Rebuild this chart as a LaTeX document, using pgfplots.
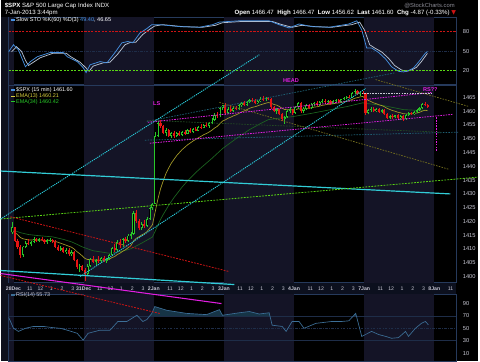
\documentclass[border=0pt]{standalone}
\usepackage{fontspec}
\setmainfont{Liberation Sans}
\newfontfamily\symfont{DejaVu Sans}
\usepackage{pgfplots}
\usepackage{pgfplotstable}
\pgfplotsset{compat=1.18}

\definecolor{dayshade}{RGB}{20,20,38}
\definecolor{leftstrip}{RGB}{14,16,28}
\definecolor{border}{RGB}{38,58,92}
\definecolor{ticktext}{RGB}{200,200,212}
\definecolor{upc}{RGB}{40,200,40}
\definecolor{dnc}{RGB}{230,20,20}
\definecolor{emaA}{RGB}{165,155,40}
\definecolor{emaAleg}{RGB}{215,205,60}
\definecolor{emaB}{RGB}{28,100,32}
\definecolor{cyd}{RGB}{40,200,215}
\definecolor{cys}{RGB}{50,205,215}
\definecolor{cLime}{RGB}{90,215,20}
\definecolor{cRed}{RGB}{205,20,20}
\definecolor{cMag}{RGB}{225,30,225}
\definecolor{cTeal}{RGB}{30,95,115}
\definecolor{cOlive}{RGB}{115,110,30}
\definecolor{cDkGreen}{RGB}{35,75,35}
\definecolor{gridc}{RGB}{30,45,72}
\definecolor{rsic}{RGB}{60,110,150}
\definecolor{rsifill}{RGB}{22,52,70}
\definecolor{stoK}{RGB}{70,145,225}
\definecolor{stoD}{RGB}{185,195,210}
\definecolor{dateband}{RGB}{12,16,30}
\definecolor{wmark}{RGB}{140,140,150}

\pgfplotstableread{
d k o h l c
-1 25 1416.0 1419.8 1415.4 1418.1
0 3 1407.8 1411.2 1407.2 1410.9
0 4 1410.9 1412.8 1410.2 1412.3
0 6 1412.0 1413.0 1411.0 1412.6
0 7 1412.6 1414.2 1412.1 1413.8
0 9 1412.9 1413.9 1412.4 1413.5
0 12 1412.4 1413.5 1411.8 1413.1
0 13 1413.1 1413.9 1412.6 1413.4
0 17 1409.8 1411.0 1409.3 1410.5
0 19 1409.0 1410.2 1408.2 1409.8
0 21 1408.1 1409.5 1407.6 1409.0
0 24 1403.4 1404.6 1401.6 1404.0
1 1 1401.0 1404.5 1400.5 1404.0
1 2 1404.0 1406.8 1403.5 1406.2
1 4 1405.3 1406.5 1404.2 1406.0
1 6 1405.5 1407.0 1405.0 1406.6
1 8 1405.8 1406.9 1405.0 1406.4
1 9 1406.4 1408.2 1406.0 1407.8
1 10 1407.8 1410.8 1407.5 1410.3
1 12 1409.5 1413.2 1409.1 1412.6
1 14 1411.4 1414.0 1410.9 1413.5
1 16 1412.8 1415.4 1412.4 1414.9
1 17 1414.9 1416.2 1413.7 1415.6
1 18 1415.6 1423.8 1415.2 1422.9
1 21 1417.5 1419.8 1417.0 1419.2
1 23 1418.4 1421.5 1418.0 1421.0
1 24 1421.0 1425.2 1420.6 1424.8
1 25 1424.8 1426.74 1424.3 1426.19
2 0 1426.19 1452.5 1426.19 1451.0
2 1 1451.0 1456.5 1450.5 1455.8
2 4 1452.2 1453.8 1451.0 1453.2
2 6 1451.2 1452.5 1450.2 1452.0
2 8 1450.9 1452.4 1450.5 1452.1
2 10 1451.5 1453.0 1451.2 1452.6
2 12 1451.9 1453.6 1451.6 1453.1
2 14 1452.4 1453.9 1452.1 1453.5
2 16 1453.0 1454.6 1452.7 1454.2
2 18 1454.0 1455.4 1453.8 1455.0
2 20 1454.6 1456.0 1454.0 1455.6
2 21 1455.6 1457.5 1455.2 1457.0
2 22 1457.0 1459.2 1456.6 1458.6
2 24 1458.1 1461.6 1457.9 1461.2
2 25 1461.2 1462.43 1460.5 1462.42
3 1 1459.4 1461.4 1459.0 1460.9
3 3 1460.2 1461.7 1459.8 1461.3
3 5 1460.8 1462.6 1460.5 1462.2
3 6 1462.2 1463.5 1461.6 1463.0
3 8 1462.3 1463.6 1462.0 1463.4
3 9 1463.4 1464.5 1463.0 1464.1
3 12 1462.9 1464.2 1462.6 1463.8
3 13 1463.8 1465.0 1463.4 1464.6
3 15 1464.3 1465.2 1463.7 1464.9
3 19 1460.0 1461.2 1459.1 1460.7
3 22 1457.2 1458.3 1455.53 1457.9
3 23 1457.9 1460.6 1457.5 1460.2
3 24 1460.2 1461.4 1459.5 1460.8
4 0 1459.37 1461.8 1458.99 1461.4
4 1 1461.4 1463.4 1461.0 1462.9
4 3 1460.0 1461.5 1459.3 1461.0
4 4 1461.0 1462.6 1460.6 1462.2
4 6 1461.3 1463.0 1461.0 1462.6
4 7 1462.6 1463.5 1462.0 1463.1
4 9 1462.2 1463.7 1462.0 1463.4
4 10 1463.4 1464.3 1462.9 1463.9
4 12 1463.2 1464.1 1462.9 1463.8
4 14 1462.8 1464.0 1462.5 1463.7
4 15 1463.7 1464.6 1463.4 1464.2
4 17 1463.3 1464.6 1463.1 1464.4
4 18 1464.4 1465.2 1464.0 1464.8
4 19 1464.8 1465.6 1464.3 1465.3
4 21 1465.0 1466.9 1464.8 1466.6
4 22 1466.6 1467.94 1466.2 1467.5
4 24 1466.3 1467.0 1465.6 1466.8
5 1 1459.4 1461.0 1458.9 1460.6
5 2 1460.6 1461.4 1459.8 1461.0
5 4 1460.1 1461.2 1459.7 1460.9
5 6 1459.8 1460.9 1459.3 1460.5
5 9 1457.6 1458.6 1457.2 1458.3
5 11 1457.8 1458.8 1457.4 1458.5
5 13 1457.4 1458.6 1456.8 1458.2
5 15 1457.1 1458.9 1456.9 1458.7
5 16 1458.7 1459.6 1458.3 1459.3
5 18 1459.0 1460.0 1458.8 1459.8
5 19 1459.8 1460.9 1459.4 1460.5
5 20 1460.5 1461.6 1460.1 1461.2
5 21 1461.2 1463.0 1460.9 1462.6
}\upbars

\pgfplotstableread{
d k o h l c
0 0 1418.1 1418.1 1412.5 1413.0
0 1 1413.0 1413.5 1410.0 1410.8
0 2 1410.8 1411.5 1406.8 1407.8
0 5 1412.3 1413.6 1411.5 1412.0
0 8 1413.8 1414.0 1412.5 1412.9
0 10 1413.5 1414.3 1412.9 1413.2
0 11 1413.2 1413.8 1412.0 1412.4
0 14 1413.4 1413.8 1412.2 1412.6
0 15 1412.6 1413.2 1410.5 1410.9
0 16 1410.9 1411.4 1409.2 1409.8
0 18 1410.5 1410.9 1408.6 1409.0
0 20 1409.8 1410.4 1407.5 1408.1
0 22 1409.0 1409.3 1405.5 1406.0
0 23 1406.0 1406.4 1402.8 1403.4
0 25 1404.0 1404.3 1402.0 1402.43
1 0 1402.43 1403.2 1398.5 1401.0
1 3 1406.2 1407.4 1404.8 1405.3
1 5 1406.0 1407.3 1405.1 1405.5
1 7 1406.6 1407.5 1405.2 1405.8
1 11 1410.3 1412.0 1408.8 1409.5
1 13 1412.6 1413.6 1410.5 1411.4
1 15 1413.5 1414.5 1412.2 1412.8
1 19 1422.9 1424.2 1419.5 1420.1
1 20 1420.1 1421.0 1416.8 1417.5
1 22 1419.2 1420.6 1417.8 1418.4
2 2 1455.8 1457.0 1453.9 1454.5
2 3 1454.5 1455.0 1451.6 1452.2
2 5 1453.2 1453.6 1450.6 1451.2
2 7 1452.0 1452.9 1450.4 1450.9
2 9 1452.1 1452.8 1451.0 1451.5
2 11 1452.6 1453.2 1451.4 1451.9
2 13 1453.1 1453.9 1452.0 1452.4
2 15 1453.5 1454.3 1452.8 1453.0
2 17 1454.2 1455.2 1453.5 1454.0
2 19 1455.0 1456.2 1454.2 1454.6
2 23 1458.6 1459.8 1457.5 1458.1
3 0 1462.42 1463.0 1458.6 1459.4
3 2 1460.9 1461.8 1459.6 1460.2
3 4 1461.3 1462.0 1460.3 1460.8
3 7 1463.0 1463.6 1461.8 1462.3
3 10 1464.1 1464.8 1463.2 1463.6
3 11 1463.6 1464.4 1462.5 1462.9
3 14 1464.6 1465.47 1463.9 1464.3
3 16 1464.9 1465.3 1464.0 1464.5
3 17 1464.5 1464.8 1460.9 1461.4
3 18 1461.4 1462.0 1459.6 1460.0
3 20 1460.7 1461.0 1458.5 1458.9
3 21 1458.9 1459.4 1456.6 1457.2
3 25 1460.8 1461.0 1458.8 1459.37
4 2 1462.9 1463.2 1459.4 1460.0
4 5 1462.2 1462.8 1460.8 1461.3
4 8 1463.1 1463.6 1461.8 1462.2
4 11 1463.9 1464.4 1462.8 1463.2
4 13 1463.8 1464.2 1462.4 1462.8
4 16 1464.2 1464.5 1462.9 1463.3
4 20 1465.3 1466.0 1464.7 1465.0
4 23 1467.5 1467.8 1466.0 1466.3
4 25 1466.8 1467.2 1466.1 1466.47
5 0 1466.47 1466.47 1458.6 1459.4
5 3 1461.0 1461.6 1459.6 1460.1
5 5 1460.9 1461.3 1459.5 1459.8
5 7 1460.5 1460.8 1458.6 1459.0
5 8 1459.0 1459.5 1457.2 1457.6
5 10 1458.3 1458.9 1457.3 1457.8
5 12 1458.5 1458.9 1457.0 1457.4
5 14 1458.2 1458.5 1456.62 1457.1
5 17 1459.3 1459.9 1458.6 1459.0
5 22 1462.6 1463.3 1461.8 1462.3
5 23 1462.3 1462.5 1461.3 1461.6
}\dnbars

\pgfplotstableread{
d k v
-1 25 1416.5
0 0 1416.0
0 1 1415.26
0 2 1414.19
0 3 1413.72
0 5 1413.30
0 7 1413.29
0 9 1413.27
0 11 1413.14
0 13 1413.17
0 15 1412.78
0 17 1412.09
0 19 1411.39
0 21 1410.65
0 22 1409.99
0 23 1409.05
0 24 1408.33
0 25 1407.49
1 0 1406.56
1 1 1406.19
1 3 1406.06
1 5 1405.97
1 7 1406.02
1 9 1406.32
1 10 1406.89
1 11 1407.26
1 12 1408.02
1 13 1408.50
1 14 1409.22
1 15 1409.73
1 16 1410.47
1 17 1411.20
1 18 1412.87
1 19 1413.90
1 20 1414.41
1 21 1415.09
1 22 1415.56
1 23 1416.34
1 24 1417.55
1 25 1418.79
2 0 1423.40
2 1 1428.03
2 2 1431.82
2 3 1434.73
2 4 1437.37
2 5 1439.35
2 6 1441.16
2 7 1442.55
2 8 1443.92
2 9 1445.00
2 10 1446.09
2 11 1446.92
2 12 1447.80
2 13 1448.46
2 14 1449.18
2 15 1449.73
2 16 1450.37
2 17 1450.89
2 18 1451.48
2 19 1451.93
2 20 1452.45
2 21 1453.10
2 22 1453.89
2 23 1454.49
2 24 1455.45
2 25 1456.45
3 0 1456.87
3 1 1457.45
3 2 1457.84
3 3 1458.33
3 4 1458.68
3 5 1459.18
3 6 1459.73
3 7 1460.10
3 8 1460.57
3 9 1461.07
3 10 1461.43
3 11 1461.64
3 12 1461.95
3 13 1462.33
3 14 1462.61
3 15 1462.94
3 16 1463.16
3 17 1462.91
3 18 1462.49
3 19 1462.23
3 20 1461.75
3 21 1461.10
3 22 1460.64
3 23 1460.58
3 24 1460.61
3 25 1460.43
4 0 1460.57
4 1 1460.90
4 2 1460.77
4 3 1460.80
4 4 1461.00
4 6 1461.26
4 7 1461.52
4 8 1461.62
4 9 1461.87
4 10 1462.16
4 11 1462.31
4 12 1462.52
4 13 1462.56
4 14 1462.72
4 15 1462.93
4 16 1462.98
4 17 1463.18
4 18 1463.41
4 19 1463.68
4 20 1463.87
4 21 1464.26
4 22 1464.72
4 23 1464.95
4 24 1465.21
4 25 1465.39
5 0 1464.53
5 1 1463.97
5 2 1463.55
5 3 1463.06
5 4 1462.75
5 5 1462.33
5 6 1462.07
5 7 1461.63
5 8 1461.05
5 9 1460.66
5 10 1460.25
5 11 1460.00
5 12 1459.63
5 13 1459.43
5 14 1459.10
5 15 1459.04
5 17 1459.07
5 18 1459.17
5 19 1459.36
5 20 1459.62
5 21 1460.05
5 22 1460.37
5 23 1460.21
}\emaA

\pgfplotstableread{
d k v
-1 25 1417.0
0 2 1415.95
0 5 1415.26
0 9 1414.83
0 14 1414.41
0 18 1413.5
0 21 1412.6
0 23 1411.72
0 25 1410.77
1 3 1409.37
1 9 1408.47
1 14 1409.24
1 17 1410.08
1 21 1412.14
1 25 1414.34
2 0 1416.43
2 1 1418.68
2 2 1420.73
2 3 1422.53
2 5 1425.8
2 7 1428.68
2 10 1432.5
2 12 1434.70
2 15 1437.7
2 17 1439.48
2 21 1442.85
2 25 1446.47
3 4 1450.05
3 9 1453.35
3 13 1455.5
3 16 1456.97
3 21 1457.64
3 25 1458.05
4 6 1459.25
4 13 1460.58
4 19 1461.68
4 25 1463.08
5 0 1462.87
5 6 1462.17
5 14 1460.61
5 19 1460.33
5 23 1460.42
}\emaB

\newcommand{\daybands}[2]{%
  \fill[dayshade] (-0.071,#1) rectangle (0,#2);
  \fill[dayshade] (1,#1) rectangle (2,#2);
  \fill[dayshade] (3,#1) rectangle (4,#2);
  \fill[dayshade] (5,#1) rectangle (6,#2);
}
\newcommand{\sz}{\fontsize{4.3}{5}\selectfont}

\pgfplotsset{
  panel/.style={scale only axis, anchor=south west, width=337.5pt,
    xmin=-0.071, xmax=6.312,
    axis background/.style={fill=black},
    axis line style={draw=border, line width=0.5pt},
    tick style={draw=none}, major tick length=0pt,
    yticklabel pos=right,
    yticklabel style={font=\sz, text=ticktext, xshift=1.5pt},
    xtick=\empty},
  candle/.style={forget plot, mark=none, line cap=butt},
}

\begin{document}
\begin{tikzpicture}[x=1pt,y=1pt]
\fill[black] (0,0) rectangle (360,272.25);
\fill[leftstrip] (0,0) rectangle (6,259.5);

% ---------------- RSI panel ----------------
\begin{axis}[panel, at={(6pt,0pt)}, height=50.25pt, ymin=-2.8, ymax=104.4,
  ytick={10,30,50,70,90}, yticklabels={10,30,50,70,90}]
\daybands{-2.8}{104.4}
\addplot[gridc, line width=0.45pt, forget plot] coordinates {(-0.071,70) (6.312,70)};
\addplot[gridc, line width=0.45pt, forget plot] coordinates {(-0.071,30) (6.312,30)};
\addplot[gridc, line width=0.45pt, dash pattern=on 2pt off 1pt on 0.5pt off 1pt, forget plot] coordinates {(-0.071,50) (6.312,50)};
\addplot[fill=rsifill, draw=none, forget plot] coordinates {(1.944,70) (1.972,74) (2.014,85) (2.184,79) (2.468,74) (2.752,72) (2.936,80) (2.979,71) (3.220,75) (3.362,77) (3.504,73) (3.645,75) (3.656,70)};
\addplot[fill=rsifill, draw=none, forget plot] coordinates {(4.846,70) (4.879,74) (4.888,70)};
\addplot[rsic, line width=0.5pt, forget plot] table {
x v
-0.071 68
0.000 50
0.071 45
0.170 50
0.284 53
0.426 53
0.567 51
0.667 50
0.766 47
0.908 42
0.993 31
1.064 42
1.234 47
1.376 47
1.489 61
1.617 61
1.759 71
1.844 61
1.901 64
1.972 74
2.014 85
2.184 79
2.468 74
2.752 72
2.936 80
2.979 71
3.220 75
3.362 77
3.504 73
3.645 75
3.688 55
3.830 53
3.887 45
3.972 61
4.071 61
4.142 50
4.312 58
4.539 61
4.681 61
4.780 62
4.879 74
4.965 37
5.106 45
5.206 40
5.305 37
5.390 34
5.489 35
5.589 45
5.631 37
5.730 50
5.816 58
5.872 61
5.915 55.73
};
\end{axis}

% ---------------- Stochastic panel ----------------
\begin{axis}[panel, at={(6pt,208.5pt)}, height=51pt, ymin=-1.5, ymax=103,
  ytick={20,50,80}, yticklabels={20,50,80}]
\daybands{-1.5}{103}
\addplot[gridc, line width=0.45pt, dash pattern=on 2pt off 1pt on 0.5pt off 1pt, forget plot] coordinates {(-0.071,50) (6.312,50)};
\addplot[stoD, line width=0.55pt, forget plot] table {
x v
-0.028 49
0.043 57
0.113 50
0.170 36
0.213 28
0.284 33
0.383 40
0.567 47
0.752 47
0.809 42
0.950 33
1.035 24
1.078 19
1.135 27
1.277 32
1.376 33
1.489 46
1.589 60
1.674 64
1.745 64
1.844 76
1.943 84
2.014 89
2.128 91
2.411 88
2.695 87
2.879 90
2.979 94
3.262 96
3.688 96
3.830 91
3.972 87
4.113 90
4.298 88
4.539 87
4.823 91
4.936 95
5.007 82
5.078 60
5.149 55
5.248 49
5.348 39
5.433 28
5.532 21
5.603 19
5.674 21
5.745 25
5.816 34
5.901 46.65
};
\addplot[stoK, line width=0.55pt, forget plot] table {
x v
-0.071 49
0.000 60
0.071 52
0.128 37
0.170 26
0.241 34
0.340 41.5
0.525 48
0.709 48
0.766 41.5
0.908 34
0.993 24.6
1.035 17
1.092 29
1.234 34
1.333 32
1.447 48
1.546 63
1.631 65
1.702 63
1.801 78
1.901 85
1.972 91
2.085 91
2.369 88
2.652 87
2.837 91
2.936 95
3.220 97
3.645 97
3.787 91
3.929 86
4.071 92
4.255 88
4.496 87
4.780 92
4.894 97
4.965 83
5.035 55
5.106 55
5.206 48
5.305 38
5.390 26
5.489 19
5.560 18
5.631 20
5.702 24
5.773 33
5.872 47
5.901 49.4
};
\addplot[cRed, line width=0.6pt, dash pattern=on 1.6pt off 1pt, forget plot] coordinates {(-0.071,80) (6.312,80)};
\addplot[cLime, line width=0.6pt, dash pattern=on 1.6pt off 1pt, forget plot] coordinates {(-0.071,20) (6.312,20)};
\end{axis}

% date band
\fill[dateband] (6,50.25) rectangle (343.5,59.25);

% ---------------- Price panel ----------------
\begin{axis}[panel, at={(6pt,59.25pt)}, height=148.5pt, ymin=1397.83, ymax=1469.33, clip=false,
  ytick={1400,1405,1410,1415,1420,1425,1430,1435,1440,1445,1450,1455,1460,1465},
  yticklabels={1400,1405,1410,1415,1420,1425,1430,1435,1440,1445,1450,1455,1460,1465},
  xtick={0,0.2308,0.3846,0.5385,0.6923,0.8462,1,1.2308,1.3846,1.5385,1.6923,1.8462,2,2.2308,2.3846,2.5385,2.6923,2.8462,3,3.2308,3.3846,3.5385,3.6923,3.8462,4,4.2308,4.3846,4.5385,4.6923,4.8462,5,5.2308,5.3846,5.5385,5.6923,5.8462,6,6.2308},
  xticklabels={\textbf{28Dec},11,12,1,2,3,\textbf{31Dec},11,12,1,2,3,\textbf{2Jan},11,12,1,2,3,\textbf{3Jan},11,12,1,2,3,\textbf{4Jan},11,12,1,2,3,\textbf{7Jan},11,12,1,2,3,\textbf{8Jan},11},
  xticklabel style={font=\fontsize{3.9}{4.5}\selectfont, text=ticktext, anchor=center, yshift=-4.6pt}]
\daybands{1397.83}{1469.33}
% EMAs
\addplot[emaB, line width=0.5pt, forget plot] table[x expr={\thisrow{d}+(\thisrow{k}+0.5)/26}, y=v] {\emaB};
\addplot[emaA, line width=0.5pt, forget plot] table[x expr={\thisrow{d}+(\thisrow{k}+0.5)/26}, y=v] {\emaA};
% candles: wicks (quiver segments from low to high)
\addplot[candle, upc, line width=0.35pt, quiver={u=0, v={\thisrow{h}-\thisrow{l}}}]
  table[x expr={\thisrow{d}+(\thisrow{k}+0.5)/26}, y=l] {\upbars};
\addplot[candle, dnc, line width=0.35pt, quiver={u=0, v={\thisrow{h}-\thisrow{l}}}]
  table[x expr={\thisrow{d}+(\thisrow{k}+0.5)/26}, y=l] {\dnbars};
% bodies (open to close)
\addplot[candle, upc, line width=1.6pt, quiver={u=0, v={max(\thisrow{c}-\thisrow{o},0.3)}}]
  table[x expr={\thisrow{d}+(\thisrow{k}+0.5)/26}, y=o] {\upbars};
\addplot[candle, black, line width=0.6pt, quiver={u=0, v={max(\thisrow{c}-\thisrow{o}-0.7,0.001)}}]
  table[x expr={\thisrow{d}+(\thisrow{k}+0.5)/26}, y expr={\thisrow{o}+0.35}] {\upbars};
\addplot[candle, dnc, line width=1.6pt, quiver={u=0, v={max(\thisrow{o}-\thisrow{c},0.3)}}]
  table[x expr={\thisrow{d}+(\thisrow{k}+0.5)/26}, y=c] {\dnbars};
% drawn trendlines
\addplot[cTeal, line width=0.55pt, dash pattern=on 1.2pt off 0.9pt, forget plot] coordinates {(1.872,1449.5) (6.340,1452.4)};
\addplot[cTeal, line width=0.55pt, dash pattern=on 1.2pt off 0.9pt, forget plot] coordinates {(1.901,1456.3) (5.447,1474.0)};
\addplot[cDkGreen, line width=0.55pt, dash pattern=on 1.2pt off 0.9pt, forget plot] coordinates {(1.901,1456.7) (6.099,1452.4)};
\addplot[cOlive, line width=0.55pt, dash pattern=on 1.2pt off 0.9pt, forget plot] coordinates {(2.936,1463.2) (6.199,1439.0)};
\addplot[cOlive, line width=0.55pt, dash pattern=on 1.2pt off 0.9pt, forget plot] coordinates {(5.163,1471.5) (6.482,1461.8)};
\addplot[cMag, line width=0.6pt, dash pattern=on 1.2pt off 0.8pt, forget plot] coordinates {(1.915,1456.0) (5.957,1466.8)};
\addplot[cMag, line width=0.6pt, dash pattern=on 1.2pt off 0.8pt, forget plot] coordinates {(1.943,1448.4) (6.270,1458.9)};
\addplot[cMag, line width=1pt, dash pattern=on 1.2pt off 0.8pt, forget plot] coordinates {(6.028,1457.8) (6.028,1445.5)};
\addplot[ticktext, line width=0.5pt, dash pattern=on 1.2pt off 0.8pt, forget plot] coordinates {(4.965,1466.4) (5.986,1466.4)};
\addplot[cys, line width=0.9pt, forget plot] coordinates {(-0.184,1438.3) (6.227,1430.0)};
\addplot[cys, line width=0.9pt, forget plot] coordinates {(-0.184,1402.2) (3.149,1397.1)};
\addplot[cLime, line width=0.6pt, dash pattern=on 1.4pt off 0.9pt, forget plot] coordinates {(-0.184,1420.9) (6.624,1436.1)};
\addplot[cRed, line width=0.6pt, dash pattern=on 1.4pt off 0.9pt, forget plot] coordinates {(-0.043,1421.7) (3.078,1401.8)};
\addplot[cRed, line width=0.6pt, dash pattern=on 1.4pt off 0.9pt, forget plot] coordinates {(-0.184,1400.4) (2.085,1386.6)};
\addplot[cMag, line width=0.8pt, forget plot] coordinates {(-0.184,1401.1) (2.965,1390.2)};
\addplot[cyd, line width=0.7pt, dash pattern=on 0.9pt off 0.7pt, forget plot] coordinates {(-0.184,1420.9) (3.504,1480.5)};
\addplot[cyd, line width=0.7pt, dash pattern=on 0.9pt off 0.7pt, forget plot] coordinates {(0.950,1400.0) (5.021,1468.3)};
% annotations
\node[text=cMag, font=\fontsize{4.2}{5}\selectfont\bfseries] at (2.043,1462.8) {LS};
\node[text=cMag, font=\fontsize{4.2}{5}\selectfont\bfseries] at (3.957,1471.3) {HEAD};
\node[text=cMag, font=\fontsize{4.2}{5}\selectfont\bfseries] at (5.943,1467.7) {RS??};
\end{axis}

% ---------------- header texts ----------------
\node[anchor=west, text=white, font=\fontsize{4.6}{5.5}\selectfont, inner sep=0] at (3,267.6) {\textbf{\$SPX}\ S\&P 500 Large Cap Index INDX};
\node[anchor=west, text=white, font=\fontsize{4.6}{5.5}\selectfont, inner sep=0] at (3,262.4) {7-Jan-2013 3:44pm};
\node[anchor=east, text=wmark, font=\fontsize{4.4}{5.5}\selectfont, inner sep=0] at (342.5,267.8) {@StockCharts.com};
\node[anchor=east, text=white, font=\fontsize{4.6}{5.5}\selectfont, inner sep=0] at (343.5,262.4)
  {\textbf{Open} 1466.47\ \ \textbf{High} 1466.47\ \ \textbf{Low} 1456.62\ \ \textbf{Last} 1461.60\ \ \textbf{Chg} -4.87 (-0.33\%) \textcolor{cRed}{\symfont ▼}};

% stochastic legend
\fill[stoK] (8,256.6) rectangle (11,258);
\node[anchor=west, text=white, font=\fontsize{4.2}{5}\selectfont, inner sep=0] at (11.6,257.3) {Slow STO \%K(60) \%D(3) \textcolor{stoK}{49.40}, 46.65};

% price legend
\fill[stoK] (8,203.5) rectangle (11,205.2);
\node[anchor=west, text=white, font=\fontsize{4.1}{5}\selectfont, inner sep=0] at (11.6,204.3) {\$SPX (15 min) 1461.60};
\fill[emaAleg] (8,199.1) rectangle (11,200.2);
\node[anchor=west, text=emaAleg, font=\fontsize{4.1}{5}\selectfont, inner sep=0] at (11.6,199.6) {EMA(13) 1460.21};
\fill[upc] (8,195.1) rectangle (11,196.2);
\node[anchor=west, text=upc, font=\fontsize{4.1}{5}\selectfont, inner sep=0] at (11.6,195.6) {EMA(34) 1460.42};

% RSI legend
\fill[rsic] (8,49.2) rectangle (11,50.5);
\node[anchor=west, text=ticktext, font=\fontsize{4.1}{5}\selectfont, inner sep=0] at (11.6,49.7) {RSI(14) 55.73};
\end{tikzpicture}
\end{document}
